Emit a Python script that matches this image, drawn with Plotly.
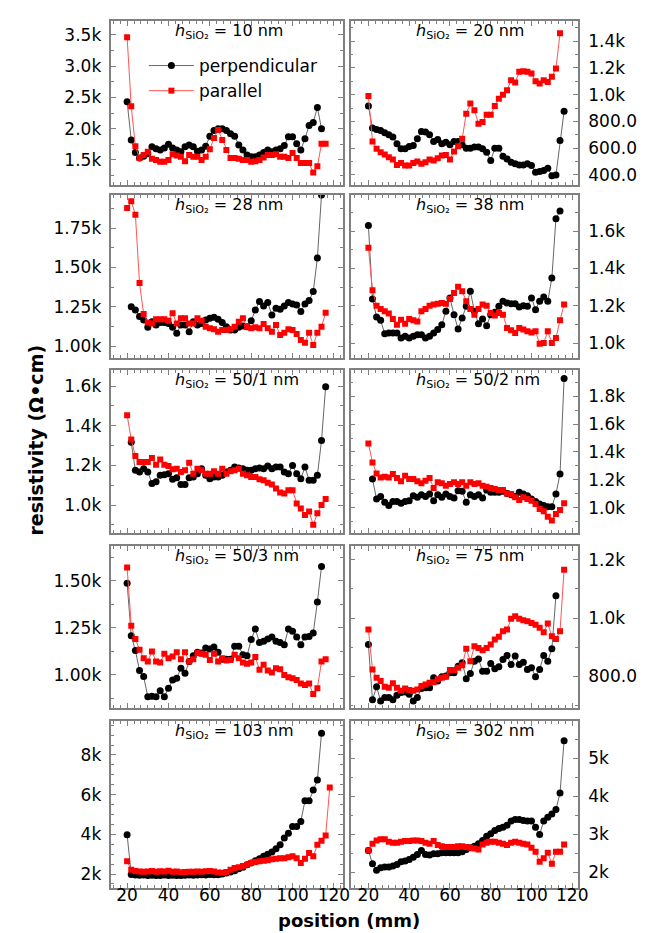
import plotly.graph_objects as go

# ---------------- data ----------------
POSITIONS = [20, 22, 24, 26, 28, 30, 32, 34, 36, 38, 40, 42, 44, 46, 48, 50, 52, 54, 56, 58,
             60, 62, 64, 66, 68, 70, 72, 74, 76, 78, 80, 82, 84, 86, 88, 90, 92, 94, 96, 98,
             100, 102, 104, 106, 108, 110, 112, 114, 116, 118]

THICKNESS = ["10 nm", "20 nm", "28 nm", "38 nm", "50/1 nm", "50/2 nm", "50/3 nm", "75 nm", "103 nm", "302 nm"]

PERP_START = [20, 20, 22, 20, 22, 22, 20, 20, 20, 20]
PAR_START = [20, 20, 20, 20, 20, 20, 20, 20, 20, 20]

perp_10 = [2430, 1820, 1620, 1530, 1560, 1600, 1710, 1680, 1660, 1690, 1750, 1690, 1660, 1630, 1710, 1740,
           1710, 1640, 1660, 1720, 1880, 1970, 2000, 2000, 1970, 1920, 1880, 1740, 1660, 1580, 1550, 1550,
           1580, 1620, 1660, 1630, 1660, 1680, 1730, 1870, 1870, 1760, 1660, 1840, 2050, 2100, 2340, 2000]
par_10 = [3460, 2360, 1720, 1530, 1580, 1630, 1520, 1500, 1470, 1470, 1500, 1590, 1570, 1550, 1480, 1580,
          1550, 1550, 1500, 1550, 1670, 1850, 1980, 1820, 1660, 1530, 1530, 1520, 1500, 1500, 1470, 1480,
          1500, 1540, 1580, 1580, 1590, 1550, 1550, 1530, 1610, 1530, 1450, 1450, 1450, 1300, 1400, 1760, 1760]

perp_20 = [915, 750, 740, 733, 715, 700, 683, 633, 595, 595, 613, 620, 670, 725, 720, 700, 650, 665, 633,
           645, 625, 650, 650, 625, 600, 600, 608, 608, 595, 570, 508, 600, 600, 540, 520, 495, 483, 475,
           475, 483, 470, 420, 425, 433, 450, 395, 400, 658, 875]
par_20 = [990, 650, 595, 570, 553, 533, 515, 475, 490, 470, 470, 490, 500, 483, 495, 515, 508, 525, 545,
          550, 515, 575, 615, 670, 858, 933, 883, 783, 795, 850, 850, 915, 970, 1000, 1033, 1108, 1090,
          1170, 1175, 1170, 1158, 1100, 1083, 1108, 1095, 1133, 1195, 1458]

perp_28 = [1250, 1229, 1187, 1166, 1119, 1155, 1134, 1149, 1149, 1144, 1119, 1081, 1134, 1134, 1091, 1155,
           1134, 1144, 1166, 1176, 1183, 1170, 1149, 1123, 1102, 1102, 1119, 1127, 1123, 1161, 1229, 1283,
           1255, 1276, 1198, 1240, 1234, 1255, 1276, 1268, 1261, 1219, 1268, 1289, 1346, 1559, 1960]
par_28 = [1877, 1920, 1835, 1400, 1204, 1149, 1144, 1170, 1170, 1170, 1161, 1208, 1144, 1176, 1176, 1144,
          1144, 1176, 1161, 1123, 1113, 1106, 1091, 1102, 1102, 1106, 1123, 1155, 1176, 1123, 1113, 1119,
          1113, 1140, 1113, 1091, 1134, 1070, 1085, 1106, 1102, 1076, 1038, 1021, 1085, 1006, 1085, 1123, 1212]

perp_38 = [1630, 1236, 1140, 1122, 1050, 1054, 1054, 1054, 1027, 1036, 1027, 1036, 1045, 1045, 1027, 1036,
           1054, 1072, 1098, 1170, 1242, 1152, 1075, 1134, 1197, 1277, 1170, 1104, 1129, 1093, 1152, 1165,
           1197, 1224, 1215, 1211, 1211, 1193, 1200, 1197, 1242, 1179, 1224, 1247, 1224, 1349, 1666, 1707]
par_38 = [1510, 1283, 1200, 1183, 1170, 1158, 1129, 1098, 1125, 1104, 1129, 1122, 1116, 1170, 1183, 1200,
          1206, 1211, 1215, 1211, 1236, 1268, 1301, 1277, 1224, 1183, 1152, 1183, 1206, 1200, 1161, 1147,
          1161, 1152, 1081, 1068, 1054, 1081, 1072, 1063, 1057, 1063, 996, 1000, 1063, 1000, 1027, 1122, 1206]

perp_50_1 = [1317, 1175, 1167, 1183, 1167, 1108, 1117, 1150, 1153, 1158, 1130, 1137, 1103, 1103, 1137, 1142,
             1158, 1183, 1150, 1133, 1142, 1142, 1150, 1167, 1175, 1192, 1187, 1183, 1175, 1175, 1183, 1187,
             1183, 1197, 1183, 1192, 1192, 1167, 1158, 1200, 1158, 1133, 1192, 1125, 1125, 1150, 1325, 1597]
par_50_1 = [1453, 1330, 1247, 1217, 1217, 1217, 1237, 1203, 1230, 1203, 1197, 1180, 1183, 1167, 1175, 1213,
            1158, 1183, 1175, 1158, 1158, 1170, 1158, 1183, 1158, 1170, 1175, 1183, 1158, 1150, 1142, 1142,
            1130, 1125, 1113, 1103, 1083, 1063, 1058, 1075, 1075, 1008, 983, 950, 967, 900, 958, 1000, 1030]

perp_50_2 = [1207, 1064, 1081, 1040, 1017, 1047, 1047, 1033, 1047, 1052, 1088, 1076, 1095, 1081, 1100, 1052,
             1095, 1076, 1100, 1081, 1071, 1123, 1119, 1040, 1095, 1081, 1095, 1071, 1128, 1112, 1112, 1112,
             1119, 1104, 1095, 1081, 1112, 1100, 1088, 1064, 1047, 1028, 1017, 1009, 1009, 1100, 1242, 1926]
par_50_2 = [1460, 1325, 1247, 1218, 1223, 1218, 1242, 1214, 1190, 1230, 1207, 1207, 1190, 1176, 1195, 1214,
            1142, 1183, 1176, 1159, 1171, 1183, 1171, 1183, 1159, 1183, 1171, 1176, 1159, 1152, 1142, 1135,
            1128, 1128, 1104, 1100, 1076, 1057, 1076, 1064, 1052, 1028, 993, 976, 938, 910, 957, 986, 1033]

perp_50_3 = [1488, 1209, 1130, 1023, 991, 884, 887, 884, 916, 884, 929, 973, 982, 1036, 1009, 1071, 1102,
             1120, 1116, 1143, 1138, 1148, 1120, 1084, 1084, 1084, 1152, 1152, 1107, 1102, 1188, 1245, 1173,
             1179, 1191, 1202, 1179, 1173, 1161, 1245, 1232, 1202, 1161, 1202, 1205, 1223, 1388, 1577]
par_50_3 = [1571, 1262, 1191, 1134, 1089, 1071, 1125, 1071, 1066, 1113, 1089, 1098, 1120, 1084, 1120, 1071,
            1084, 1116, 1113, 1107, 1080, 1113, 1071, 1089, 1077, 1080, 1107, 1089, 1066, 1059, 1066, 1095,
            1027, 1054, 1023, 1013, 1036, 1030, 1000, 988, 982, 973, 955, 946, 955, 898, 929, 1071, 1084]

perp_75 = [909, 718, 763, 714, 726, 726, 718, 734, 743, 745, 737, 714, 726, 757, 760, 760, 794, 783, 798,
           800, 811, 811, 834, 846, 791, 809, 851, 859, 817, 817, 843, 825, 832, 857, 871, 840, 869, 840,
           848, 823, 829, 798, 823, 871, 851, 894, 1077]
par_75 = [960, 823, 794, 783, 763, 760, 775, 760, 749, 757, 752, 749, 754, 766, 771, 777, 779, 789, 794,
          798, 821, 821, 829, 837, 894, 851, 903, 897, 889, 897, 909, 926, 935, 954, 960, 997, 1006, 997,
          992, 989, 983, 977, 966, 951, 981, 937, 928, 954, 1166]

perp_103 = [3980, 1970, 1950, 1940, 1950, 1930, 1940, 1920, 1930, 1950, 1920, 1940, 1930, 1920, 1940, 1950,
            1940, 1950, 1960, 1950, 1970, 1960, 1960, 2000, 2050, 2100, 2170, 2270, 2340, 2470, 2550, 2670,
            2770, 2890, 3000, 3110, 3270, 3475, 3810, 4060, 4400, 4400, 4650, 5690, 5690, 6240, 6740, 9090]
par_103 = [2640, 2220, 2150, 2130, 2120, 2130, 2150, 2120, 2140, 2130, 2160, 2110, 2130, 2090, 2100, 2120,
           2110, 2130, 2120, 2140, 2150, 2130, 2080, 2060, 2100, 2220, 2300, 2340, 2400, 2470, 2550, 2600,
           2640, 2670, 2700, 2740, 2770, 2800, 2800, 2840, 2890, 2800, 2550, 2770, 3060, 2890, 3475, 3680,
           3940, 6360]

perp_302 = [2570, 2220, 2044, 2114, 2130, 2130, 2160, 2200, 2270, 2290, 2330, 2390, 2464, 2570, 2464, 2446,
            2480, 2480, 2508, 2508, 2508, 2508, 2508, 2534, 2595, 2640, 2680, 2744, 2830, 2945, 3006, 3094,
            3146, 3181, 3234, 3340, 3383, 3383, 3356, 3340, 3340, 3181, 2990, 3340, 3444, 3530, 3645, 4083, 5456]
par_302 = [2570, 2744, 2830, 2860, 2860, 2800, 2770, 2770, 2800, 2814, 2814, 2830, 2830, 2814, 2770, 2744,
           2814, 2710, 2680, 2656, 2656, 2656, 2680, 2680, 2656, 2640, 2620, 2595, 2726, 2770, 2800, 2800,
           2770, 2744, 2710, 2770, 2800, 2770, 2744, 2726, 2640, 2534, 2270, 2360, 2508, 2220, 2534, 2534, 2726]

PERP = [perp_10, perp_20, perp_28, perp_38, perp_50_1, perp_50_2, perp_50_3, perp_75, perp_103, perp_302]
PAR = [par_10, par_20, par_28, par_38, par_50_1, par_50_2, par_50_3, par_75, par_103, par_302]

Y_RANGES = [[1100, 3720], [325, 1550], [924, 1960], [920, 1793], [859, 1681],
            [821, 1986], [824, 1686], [690, 1248], [1295, 9713], [1580, 5975]]

Y_TICKVALS = [[1500, 2000, 2500, 3000, 3500],
              [400, 600, 800, 1000, 1200, 1400],
              [1000, 1250, 1500, 1750],
              [1000, 1200, 1400, 1600],
              [1000, 1200, 1400, 1600],
              [1000, 1200, 1400, 1600, 1800],
              [1000, 1250, 1500],
              [800, 1000, 1200],
              [2000, 4000, 6000, 8000],
              [2000, 3000, 4000, 5000]]
Y_TICKTEXT = [["1.5k", "2.0k", "2.5k", "3.0k", "3.5k"],
              ["400.0", "600.0", "800.0", "1.0k", "1.2k", "1.4k"],
              ["1.00k", "1.25k", "1.50k", "1.75k"],
              ["1.0k", "1.2k", "1.4k", "1.6k"],
              ["1.0k", "1.2k", "1.4k", "1.6k"],
              ["1.0k", "1.2k", "1.4k", "1.6k", "1.8k"],
              ["1.00k", "1.25k", "1.50k"],
              ["800.0", "1.0k", "1.2k"],
              ["2k", "4k", "6k", "8k"],
              ["2k", "3k", "4k", "5k"]]
Y_MINOR = [250, 100, 125, 100, 100, 100, 125, 100, 500, 500]

X_TICKVALS = [20, 40, 60, 80, 100, 120]
X_TICKTEXT = ["20", "40", "60", "80", "100", "120"]

# ---------------- layout geometry (pixels) ----------------
W, H = 655, 933
COL_PX = [(105, 340), (348, 579)]
ROW_PX = [(13, 177), (187, 350), (362, 525), (538, 700), (713, 880)]
X_RANGES = [[12.4, 124.3], [11.3, 122.9]]

FONT = "DejaVu Sans"
FRAME = "#808080"

fig = go.Figure()

for i in range(10):
    r, c = divmod(i, 2)
    xs = "x" if i == 0 else f"x{i+1}"
    ys = "y" if i == 0 else f"y{i+1}"
    p0 = POSITIONS.index(PERP_START[i])
    q0 = POSITIONS.index(PAR_START[i])
    fig.add_trace(go.Scatter(
        x=POSITIONS[p0:p0 + len(PERP[i])], y=PERP[i], xaxis=xs, yaxis=ys,
        mode="lines+markers", name="perpendicular", showlegend=(i == 0),
        line=dict(color="#666666", width=1),
        marker=dict(symbol="circle", size=7, color="black"),
    ))
    fig.add_trace(go.Scatter(
        x=POSITIONS[q0:q0 + len(PAR[i])], y=PAR[i], xaxis=xs, yaxis=ys,
        mode="lines+markers", name="parallel", showlegend=(i == 0),
        line=dict(color="#ff5555", width=1),
        marker=dict(symbol="square", size=6, color="#ff0000"),
    ))

    x0, x1 = COL_PX[c]
    top, bot = ROW_PX[r]
    common = dict(showline=True, linecolor=FRAME, linewidth=1.5, mirror="allticks",
                  ticks="inside", ticklen=5, tickwidth=1, tickcolor=FRAME,
                  showgrid=False, zeroline=False,
                  tickfont=dict(family=FONT, size=17, color="black"))
    xkey = "xaxis" if i == 0 else f"xaxis{i+1}"
    ykey = "yaxis" if i == 0 else f"yaxis{i+1}"
    fig.layout[xkey] = dict(
        common, domain=[x0 / W, x1 / W], anchor=ys, range=X_RANGES[c],
        tickmode="array", tickvals=X_TICKVALS, ticktext=X_TICKTEXT,
        showticklabels=(r == 4), ticklabelstandoff=-9,
        minor=dict(tickmode="linear", tick0=20, dtick=20 / 6, ticks="inside",
                   ticklen=3, tickcolor=FRAME, showgrid=False),
    )
    fig.layout[ykey] = dict(
        common, domain=[1 - bot / H, 1 - top / H], anchor=xs, range=Y_RANGES[i],
        side="left" if c == 0 else "right",
        tickmode="array", tickvals=Y_TICKVALS[i], ticktext=Y_TICKTEXT[i],
        ticklabelstandoff=5,
        minor=dict(tickmode="linear", tick0=0, dtick=Y_MINOR[i], ticks="inside",
                   ticklen=3, tickcolor=FRAME, showgrid=False),
    )

annotations = []
for i in range(10):
    r, c = divmod(i, 2)
    xd = "x domain" if i == 0 else f"x{i+1} domain"
    yd = "y domain" if i == 0 else f"y{i+1} domain"
    annotations.append(dict(
        text=f"<i>h</i><sub>SiO₂</sub> = {THICKNESS[i]}",
        xref=xd, yref=yd, x=0.265 if c == 0 else 0.28, y=1.01,
        xanchor="left", yanchor="top", showarrow=False,
        font=dict(family=FONT, size=16, color="black"),
    ))

annotations.append(dict(
    text="<b>resistivity (Ω•cm)</b>", xref="paper", yref="paper",
    x=28 / W, y=1 - 432 / H, xanchor="center", yanchor="middle", textangle=-90,
    showarrow=False, font=dict(family=FONT, size=19, color="black"),
))
annotations.append(dict(
    text="<b>position (mm)</b>", xref="paper", yref="paper",
    x=346 / W, y=1 - 912 / H, xanchor="center", yanchor="middle",
    showarrow=False, font=dict(family=FONT, size=18, color="black"),
))

fig.update_layout(
    width=W, height=H, margin=dict(l=0, r=0, t=0, b=0),
    paper_bgcolor="white", plot_bgcolor="white",
    annotations=annotations,
    legend=dict(x=138 / W, y=1 - 40 / H, xanchor="left", yanchor="top",
                bgcolor="rgba(0,0,0,0)", font=dict(family=FONT, size=17, color="black"),
                tracegroupgap=0, itemwidth=45),
)

fig.write_html("out.html")
